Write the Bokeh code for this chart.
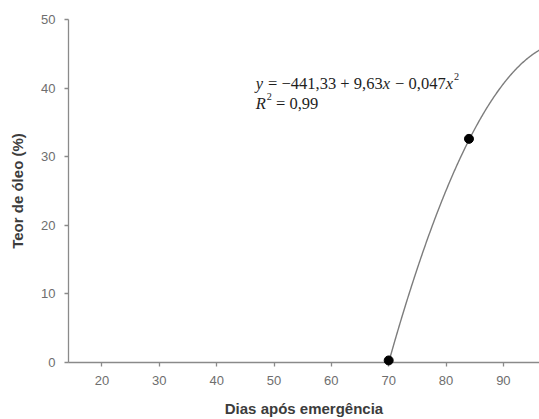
import numpy as np
from bokeh.plotting import figure
from bokeh.models import FixedTicker, Range1d
from bokeh.core.properties import value
from bokeh.embed import file_html
from bokeh.resources import INLINE

# ---- data ----
days = [70, 84]                 # Dias após emergência
oil = [0.3, 32.6]               # Teor de óleo (%)
coef_a, coef_b, coef_c = -441.33, 9.63, -0.0475   # fitted quadratic
fit_start, fit_end = 70, 98
x_ticks = [20, 30, 40, 50, 60, 70, 80, 90, 100]
y_ticks = [0, 10, 20, 30, 40, 50]
eq_a_txt, eq_b_txt, eq_c_txt = "441,33", "9,63", "0,047"
r2_txt = "0,99"

# ---- figure ----
p = figure(width=539, height=419, x_range=Range1d(14.16, 96.3), y_range=Range1d(0, 50),
           output_backend="svg", toolbar_location=None,
           min_border_left=68, min_border_right=0, min_border_top=19, min_border_bottom=56)
p.outline_line_color = None
p.grid.visible = False
p.background_fill_color = "white"
p.border_fill_color = "white"

axis_col = "#8a8a8a"
for ax in (p.xaxis, p.yaxis):
    ax.axis_line_color = axis_col
    ax.axis_line_width = 1.3
    ax.major_tick_line_color = axis_col
    ax.major_tick_line_width = 1.3
    ax.major_tick_out = 4
    ax.major_tick_in = 0
    ax.minor_tick_line_color = None
    ax.major_label_text_font = "Liberation Sans"
    ax.major_label_text_font_size = "13px"
    ax.major_label_text_color = "#6e6e6e"
    ax.axis_label_text_font = "Liberation Sans"
    ax.axis_label_text_font_size = "15px"
    ax.axis_label_text_font_style = "bold"
    ax.axis_label_text_color = "#3c3c3c"

p.xaxis.ticker = FixedTicker(ticks=x_ticks)
p.yaxis.ticker = FixedTicker(ticks=y_ticks)
p.xaxis.axis_label = "Dias após emergência"
p.yaxis.axis_label = "Teor de óleo (%)"
p.xaxis.major_label_standoff = 9
p.xaxis.axis_label_standoff = 12
p.yaxis.major_label_standoff = 9
p.yaxis.axis_label_standoff = 12

# fitted curve
xs = np.linspace(fit_start, fit_end, 300)
ys = coef_a + coef_b * xs + coef_c * xs ** 2
p.line(xs, ys, line_color="#7d7d7d", line_width=1.4)

# observed points (drawn on top so the point on the axis is not cut)
p.scatter(days, oil, size=9, fill_color="black", line_color="black", level="overlay")

# ---- equation text ----
F = 16.5
sup_scale = 0.62
NB = "\u00a0"
metrics = {d: 0.5 for d in "0123456789"}
metrics.update({",": 0.25, NB: 0.25, "=": 0.564, "+": 0.564, "\u2212": 0.564,
                "x": 0.444, "y": 0.444, "R": 0.611})

def w(s, size):
    return sum(metrics.get(ch, 0.5) for ch in s) * size

eq_x, eq_y1, eq_y2 = 46.8, 40.7, 37.7
text_col = "#1e1e1e"

def draw_line(segments, y):
    off = 0.0
    for txt, kind in segments:
        size = F * sup_scale if kind == "sup" else F
        yoff = -0.42 * F if kind == "sup" else 0
        p.text(x=[eq_x], y=[y], text=[txt], x_offset=off, y_offset=yoff,
               text_font=value("Liberation Serif"),
               text_font_size=f"{size:.1f}px",
               text_font_style="italic" if kind == "it" else "normal",
               text_color=text_col, text_align="left", text_baseline="alphabetic")
        off += w(txt, size) + (1.0 if kind == "it" else 0)

draw_line([("y", "it"), (NB + "=" + NB + "\u2212" + eq_a_txt + NB + "+" + NB + eq_b_txt, "n"),
           ("x", "it"), (NB + "\u2212" + NB + eq_c_txt, "n"), ("x", "it"), ("2", "sup")], eq_y1)
draw_line([("R", "it"), ("2", "sup"), (NB + "=" + NB + r2_txt, "n")], eq_y2)

open("out.html", "w").write(file_html(p, INLINE))
